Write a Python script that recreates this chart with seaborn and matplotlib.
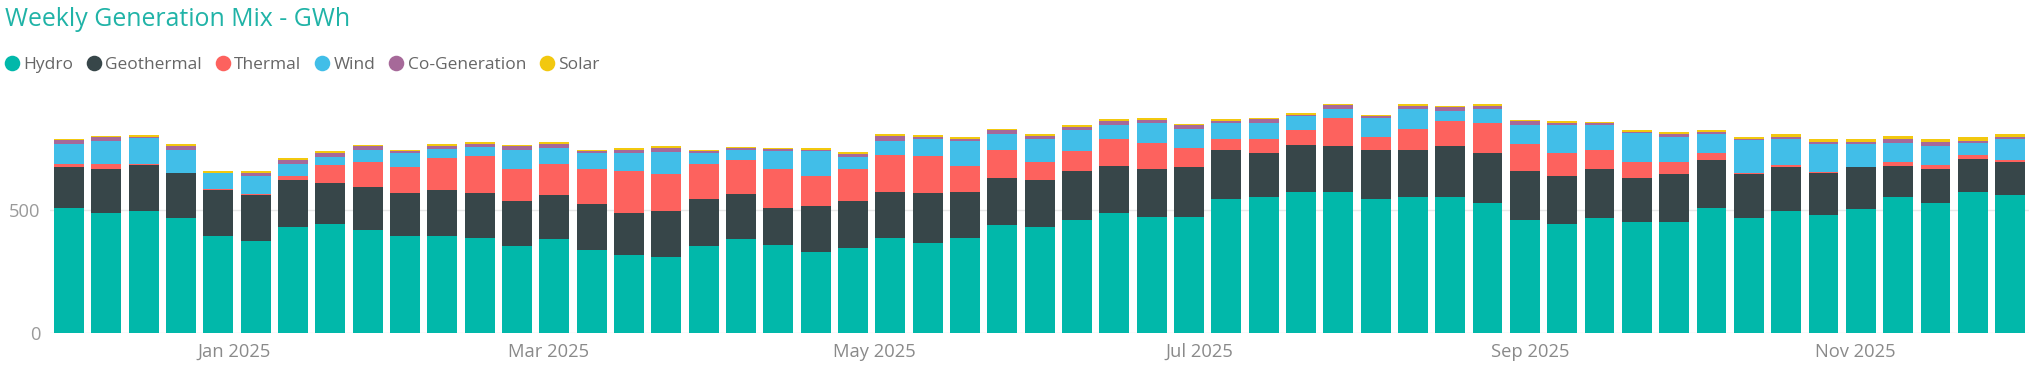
import numpy as np
import pandas as pd
import matplotlib
matplotlib.use("Agg")
import matplotlib.pyplot as plt
import matplotlib.dates as mdates
from matplotlib.lines import Line2D
import seaborn as sns

# ---------------- data (GWh per week) ----------------
weeks = pd.date_range("2024-12-01", periods=53, freq="7D")

hydro = [510, 488, 495, 466, 395, 375, 431, 445, 418, 395, 395, 388, 353, 381, 338,
         316, 310, 353, 381, 360, 331, 346, 388, 368, 388, 438, 431, 460, 488, 473,
         473, 545, 552, 573, 573, 545, 552, 552, 530, 460, 445, 466, 452, 452, 510,
         466, 495, 480, 502, 552, 530, 573, 560]
geothermal = [164, 177, 187, 185, 185, 185, 191, 164, 177, 172, 185, 179, 185, 179, 185,
              172, 185, 192, 185, 150, 185, 192, 185, 199, 185, 192, 192, 199, 192, 192,
              200, 200, 179, 192, 185, 200, 193, 207, 200, 199, 193, 200, 179, 193, 192,
              179, 179, 172, 172, 128, 137, 135, 135]
thermal = [14, 22, 5, 1, 7, 5, 15, 72, 99, 107, 130, 150, 128, 127, 143,
           172, 150, 143, 135, 157, 122, 128, 150, 150, 107, 115, 72, 80, 108, 108,
           78, 43, 57, 58, 114, 50, 85, 100, 122, 108, 93, 78, 65, 50, 30,
           7, 7, 1, 1, 15, 14, 15, 7]
wind = [80, 93, 103, 93, 61, 73, 51, 35, 50, 58, 37, 37, 78, 65, 65,
        70, 92, 43, 43, 72, 100, 49, 57, 72, 101, 62, 93, 85, 57, 78,
        78, 64, 65, 57, 37, 78, 78, 43, 57, 78, 114, 100, 115, 99, 78,
        131, 108, 114, 92, 78, 78, 50, 85]
cogeneration = [14, 14, 6, 14, 4, 14, 14, 14, 14, 7, 14, 14, 14, 14, 7,
                15, 14, 7, 7, 7, 7, 14, 22, 7, 7, 16, 14, 14, 15, 14,
                14, 8, 14, 7, 15, 7, 14, 14, 14, 14, 7, 7, 7, 15, 7,
                5, 8, 8, 7, 14, 15, 7, 8]
solar = [7, 7, 7, 7, 7, 7, 8, 8, 7, 5, 7, 7, 7, 8, 7,
         7, 7, 5, 5, 5, 5, 7, 7, 7, 7, 7, 7, 8, 7, 7,
         7, 7, 7, 7, 7, 7, 8, 7, 7, 7, 7, 7, 7, 7, 7,
         7, 12, 12, 13, 15, 14, 15, 14]

series = ["Hydro", "Geothermal", "Thermal", "Wind", "Co-Generation", "Solar"]
colors = ["#01B8AA", "#374649", "#FD625E", "#41BEE8", "#A66999", "#F2C80F"]
y_ticks = [0, 500]
x_tick_months = [1, 3, 5, 7, 9, 11]
title = "Weekly Generation Mix - GWh"

df = pd.DataFrame({
    "Hydro": hydro, "Geothermal": geothermal, "Thermal": thermal,
    "Wind": wind, "Co-Generation": cogeneration, "Solar": solar,
})
cum = df[series].cumsum(axis=1)
xnum = mdates.date2num(weeks.to_pydatetime())

# ---------------- figure ----------------
sns.set_theme(style="white")
plt.rcParams["font.family"] = ["Open Sans", "DejaVu Sans"]

W, H = 2032, 370
pad_days = 3.56
px_per_day = 5.333
ax_w = (xnum[-1] - xnum[0] + 2 * pad_days) * px_per_day
fig = plt.figure(figsize=(W / 100, H / 100), dpi=100)
ax = fig.add_axes([50 / W, (H - 333.3) / H, ax_w / W, 233.3 / H])

for name, col in reversed(list(zip(series, colors))):
    sns.barplot(x=xnum, y=cum[name].values, color=col, native_scale=True,
                width=0.80, errorbar=None, saturation=1, linewidth=0, ax=ax)

ax.set_xlim(xnum[0] - pad_days, xnum[-1] + pad_days)
ax.set_ylim(0, 946)
ax.set_yticks(y_ticks)
ax.yaxis.grid(True, color="#E8E8E8", linewidth=1)
ax.xaxis.grid(False)
ax.set_axisbelow(True)
for s in ax.spines.values():
    s.set_visible(False)

ax.xaxis.set_major_locator(mdates.MonthLocator(bymonth=x_tick_months))
ax.xaxis.set_major_formatter(mdates.DateFormatter("%b %Y"))
ax.tick_params(axis="x", length=0, pad=7, labelsize=13.2, labelcolor="#8A8A8A")
ax.tick_params(axis="y", length=0, pad=7, labelsize=13.2, labelcolor="#9A9A9A")
ax.set_xlabel("")
ax.set_ylabel("")

fig.text(5 / W, 1 - 20 / H, title, fontsize=17.9, color="#20B3A7",
         ha="left", va="center")

handles = [Line2D([], [], marker="o", ls="", markersize=11.2,
                  markerfacecolor=c, markeredgewidth=0) for c in colors]
fig.legend(handles, series, loc="center left", bbox_to_anchor=(0.002, 1 - 65 / H),
           ncol=6, frameon=False, handletextpad=0.2, columnspacing=0.75,
           handlelength=0.9, borderaxespad=0, borderpad=0, fontsize=12.5,
           labelcolor="#666666")

fig.savefig("out.png", dpi=100, facecolor="white")
